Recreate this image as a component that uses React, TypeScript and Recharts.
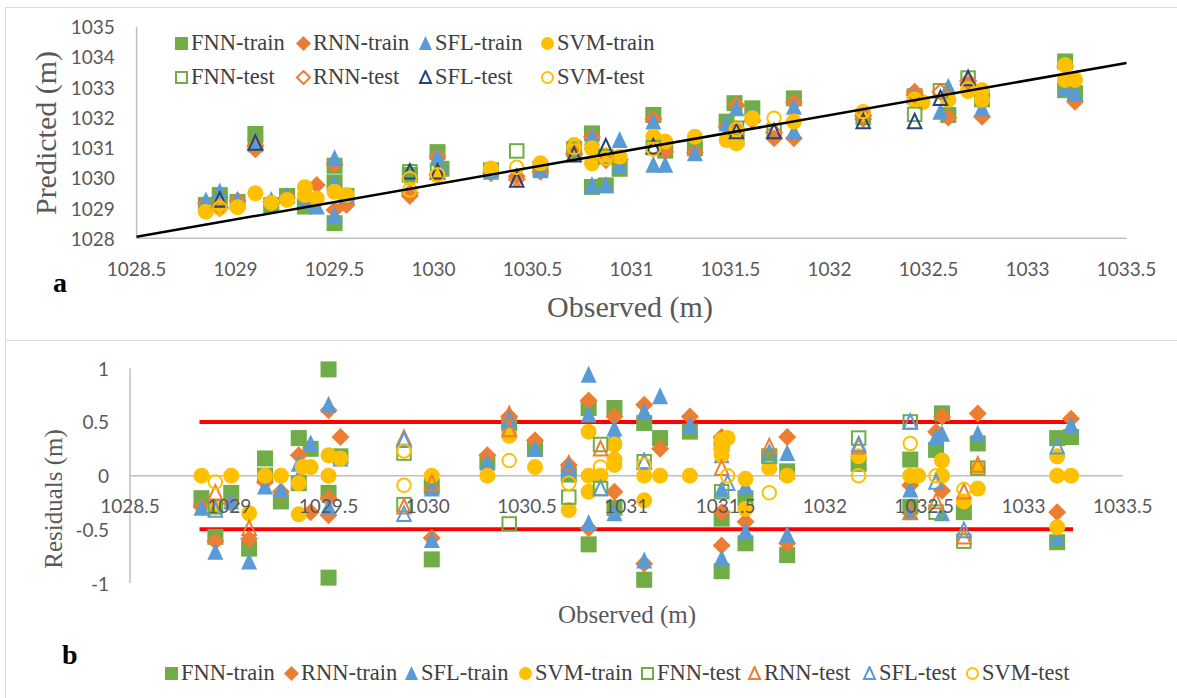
import React from 'react';
import { ScatterChart, Scatter, XAxis, YAxis, ReferenceLine } from 'recharts';

type Pt = [number, number];

// ---------- axis ticks ----------
const xTicks = [1028.5, 1029, 1029.5, 1030, 1030.5, 1031, 1031.5, 1032, 1032.5, 1033, 1033.5];
const yTicksA = [1028, 1029, 1030, 1031, 1032, 1033, 1034, 1035];
const yTicksB = [-1, -0.5, 0, 0.5, 1];

// ---------- panel a : observed vs predicted ----------
const fnnTrainA: Pt[] = [
  [1028.85, 1029.1], [1028.92, 1029.43], [1029.01, 1029.2], [1029.1, 1031.45], [1029.18, 1029.1],
  [1029.26, 1029.4], [1029.35, 1029.05], [1029.5, 1030.4], [1029.5, 1029.85], [1029.5, 1028.5],
  [1029.56, 1029.4], [1029.88, 1030.1], [1030.02, 1030.85], [1030.04, 1030.3], [1030.29, 1030.25],
  [1030.54, 1030.3], [1030.71, 1030.95], [1030.8, 1031.47], [1030.8, 1029.7], [1030.87, 1029.75],
  [1030.94, 1030.3], [1031.11, 1032.08], [1031.17, 1030.9], [1031.32, 1030.98], [1031.48, 1031.86],
  [1031.52, 1032.47], [1031.53, 1031.3], [1031.61, 1032.3], [1031.82, 1032.63], [1032.43, 1032.7],
  [1032.6, 1032.08], [1032.77, 1032.6], [1033.19, 1033.85], [1033.19, 1032.9], [1033.24, 1032.8],
];
const rnnTrainA: Pt[] = [
  [1028.85, 1029.15], [1028.92, 1029.35], [1029.01, 1029.25], [1029.1, 1030.95], [1029.18, 1029.2],
  [1029.26, 1029.35], [1029.41, 1029.76], [1029.5, 1030.45], [1029.5, 1028.94], [1029.56, 1029.1],
  [1029.88, 1029.4], [1030.02, 1030.7], [1030.29, 1030.15], [1030.42, 1030.05], [1030.54, 1030.2],
  [1030.71, 1030.8], [1030.8, 1031.35], [1030.94, 1030.6], [1031.11, 1031.95], [1031.17, 1030.86],
  [1031.32, 1030.85], [1031.48, 1031.7], [1031.53, 1032.4], [1031.61, 1031.9], [1031.72, 1031.31],
  [1031.82, 1031.31], [1031.82, 1032.5], [1032.17, 1031.95], [1032.43, 1032.85], [1032.6, 1032.0],
  [1032.7, 1033.1], [1032.77, 1032.02], [1033.19, 1033.7], [1033.24, 1032.52],
];
const sflTrainA: Pt[] = [
  [1028.85, 1029.25], [1028.92, 1029.55], [1029.01, 1029.27], [1029.1, 1031.2], [1029.18, 1029.27],
  [1029.26, 1029.4], [1029.35, 1029.2], [1029.41, 1029.05], [1029.5, 1030.65], [1029.5, 1029.82],
  [1029.5, 1028.77], [1029.56, 1029.4], [1030.02, 1030.7], [1030.04, 1030.4], [1030.29, 1030.2],
  [1030.54, 1030.25], [1030.71, 1030.85], [1030.8, 1031.35], [1030.8, 1029.76], [1030.87, 1029.76],
  [1030.94, 1031.25], [1030.94, 1030.4], [1031.11, 1031.86], [1031.11, 1030.43], [1031.17, 1030.43],
  [1031.32, 1030.81], [1031.48, 1031.8], [1031.53, 1032.3], [1031.61, 1032.08], [1031.82, 1032.35],
  [1031.82, 1031.53], [1032.43, 1032.7], [1032.56, 1032.19], [1032.6, 1033.01], [1032.77, 1032.3],
  [1033.19, 1032.96], [1033.24, 1032.8],
];
const svmTrainA: Pt[] = [
  [1028.85, 1028.88], [1028.92, 1029.05], [1029.01, 1029.03], [1029.1, 1029.49], [1029.18, 1029.18],
  [1029.26, 1029.27], [1029.35, 1029.69], [1029.35, 1029.43], [1029.41, 1029.32], [1029.5, 1029.54],
  [1029.56, 1029.43], [1030.02, 1030.09], [1030.29, 1030.31], [1030.54, 1030.48], [1030.71, 1031.09],
  [1030.8, 1030.98], [1030.8, 1030.48], [1030.87, 1030.75], [1030.94, 1030.7], [1031.11, 1031.36],
  [1031.17, 1031.2], [1031.32, 1031.36], [1031.48, 1031.25], [1031.53, 1031.14], [1031.53, 1031.47],
  [1031.61, 1031.97], [1031.82, 1031.86], [1032.17, 1032.1], [1032.43, 1032.58], [1032.47, 1032.5],
  [1032.6, 1032.58], [1032.7, 1032.87], [1032.77, 1032.9], [1032.77, 1032.58], [1033.19, 1033.73],
  [1033.19, 1033.24], [1033.24, 1033.24],
];
const fnnTestA: Pt[] = [
  [1028.92, 1029.3], [1029.1, 1031.1], [1029.88, 1030.2], [1030.02, 1030.2], [1030.42, 1030.89],
  [1030.71, 1030.95], [1030.87, 1030.7], [1031.11, 1031.0], [1031.53, 1031.64], [1031.72, 1031.55],
  [1032.17, 1032.0], [1032.43, 1032.1], [1032.56, 1032.88], [1032.7, 1033.3],
];
const rnnTestA: Pt[] = [
  [1028.92, 1029.0], [1029.1, 1031.05], [1029.88, 1029.5], [1030.02, 1030.1], [1030.42, 1029.95],
  [1030.71, 1030.8], [1030.87, 1030.59], [1031.11, 1031.0], [1031.53, 1031.6], [1031.72, 1031.5],
  [1032.17, 1032.05], [1032.43, 1032.75], [1032.56, 1032.85], [1032.7, 1033.2],
];
const sflTestA: Pt[] = [
  [1028.92, 1029.27], [1029.1, 1031.15], [1029.88, 1030.2], [1030.02, 1030.2], [1030.42, 1029.93],
  [1030.71, 1030.76], [1030.87, 1031.03], [1031.11, 1031.03], [1031.53, 1031.53], [1031.72, 1031.53],
  [1032.17, 1031.86], [1032.43, 1031.86], [1032.56, 1032.63], [1032.7, 1033.29],
];
const svmTestA: Pt[] = [
  [1028.92, 1029.0], [1029.88, 1029.98], [1029.88, 1029.6], [1030.02, 1030.1], [1030.42, 1030.35],
  [1030.71, 1031.0], [1030.87, 1030.65], [1031.11, 1030.95], [1031.53, 1031.6], [1031.72, 1031.97],
  [1032.17, 1032.19], [1032.43, 1032.6], [1032.7, 1032.95],
];
const trendA: Pt[] = [[1028.5, 1028.05], [1033.5, 1033.8]];

// ---------- panel b : observed vs residuals ----------
const fnnTrainB: Pt[] = [
  [1028.86, -0.21], [1028.93, -0.57], [1029.01, -0.16], [1029.1, -0.68], [1029.18, 0.16], [1029.18, 0],
  [1029.26, -0.24], [1029.35, 0.35], [1029.35, -0.07], [1029.41, 0.25], [1029.5, 0.99], [1029.5, -0.16],
  [1029.5, -0.95], [1029.56, 0.18], [1030.02, -0.1], [1030.02, -0.78], [1030.3, 0.13], [1030.41, 0.49],
  [1030.54, 0.25], [1030.71, 0.01], [1030.81, 0.63], [1030.81, -0.64], [1030.94, 0.63], [1030.94, -0.3],
  [1031.09, 0.49], [1031.09, -0.97], [1031.17, 0.35], [1031.32, 0.41], [1031.48, 0.3], [1031.48, -0.4],
  [1031.48, -0.89], [1031.6, -0.21], [1031.6, -0.63], [1031.72, 0.18], [1031.81, 0.04], [1031.81, -0.74],
  [1032.17, 0.11], [1032.43, 0.15], [1032.43, -0.29], [1032.56, 0.24], [1032.59, 0.58], [1032.7, -0.34],
  [1032.77, 0.3], [1033.17, 0.35], [1033.17, -0.62], [1033.24, 0.36],
];
const rnnTrainB: Pt[] = [
  [1028.86, -0.29], [1028.93, -0.61], [1029.01, -0.26], [1029.1, -0.59], [1029.18, -0.06], [1029.26, -0.15],
  [1029.35, 0.19], [1029.41, -0.34], [1029.5, 0.61], [1029.5, -0.21], [1029.5, -0.37], [1029.56, 0.36],
  [1030.02, -0.58], [1030.3, 0.19], [1030.41, 0.55], [1030.54, 0.33], [1030.71, 0.1], [1030.81, 0.7],
  [1030.81, -0.49], [1030.94, 0.55], [1030.94, -0.15], [1031.09, 0.66], [1031.09, -0.82], [1031.17, 0.25],
  [1031.32, 0.55], [1031.48, 0.36], [1031.48, -0.34], [1031.48, -0.65], [1031.6, -0.43], [1031.81, 0.36],
  [1031.81, -0.63], [1032.43, -0.09], [1032.56, 0.41], [1032.59, 0.55], [1032.59, -0.14], [1032.77, 0.58],
  [1033.17, -0.34], [1033.24, 0.53],
];
const sflTrainB: Pt[] = [
  [1028.86, -0.3], [1028.93, -0.71], [1029.01, -0.24], [1029.1, -0.8], [1029.18, -0.1], [1029.26, -0.13],
  [1029.35, 0.11], [1029.35, -0.01], [1029.41, 0.3], [1029.5, 0.66], [1029.5, -0.29], [1029.56, 0.16],
  [1030.02, -0.12], [1030.02, -0.6], [1030.3, 0.12], [1030.41, 0.47], [1030.54, 0.25], [1030.71, 0.05],
  [1030.81, 0.94], [1030.81, 0.57], [1030.81, -0.44], [1030.94, 0.44], [1030.94, 0.38], [1030.94, -0.35],
  [1031.09, 0.6], [1031.09, -0.79], [1031.17, 0.74], [1031.32, 0.47], [1031.48, 0.19], [1031.48, -0.13],
  [1031.48, -0.77], [1031.6, -0.1], [1031.6, -0.52], [1031.81, 0.21], [1031.81, -0.55], [1032.43, -0.13],
  [1032.43, -0.34], [1032.56, 0.36], [1032.59, 0.39], [1032.59, -0.35], [1032.77, 0.39], [1033.17, -0.58],
  [1033.24, 0.47],
];
const svmTrainB: Pt[] = [
  [1028.86, 0], [1028.93, -0.29], [1029.01, 0], [1029.1, -0.35], [1029.18, 0], [1029.26, 0],
  [1029.35, -0.07], [1029.35, -0.36], [1029.37, 0.08], [1029.41, 0.08], [1029.5, 0.19], [1029.5, 0],
  [1029.56, 0.16], [1030.02, 0], [1030.3, 0], [1030.41, 0.37], [1030.54, 0.08], [1030.71, -0.32],
  [1030.81, 0.41], [1030.81, 0], [1030.81, -0.15], [1030.87, 0], [1030.94, 0.29], [1030.94, 0.15],
  [1030.94, 0.1], [1031.09, 0], [1031.09, -0.23], [1031.17, 0], [1031.32, 0], [1031.48, 0.33],
  [1031.48, 0.25], [1031.48, 0.19], [1031.51, 0.35], [1031.6, -0.03], [1031.6, -0.31], [1031.72, 0.07],
  [1031.81, 0], [1032.17, 0.18], [1032.43, 0], [1032.47, 0], [1032.59, 0.14], [1032.59, 0],
  [1032.7, -0.24], [1032.77, 0.07], [1032.77, -0.12], [1033.17, 0.18], [1033.17, 0], [1033.17, -0.48],
  [1033.24, 0],
];
const fnnTestB: Pt[] = [
  [1028.93, -0.29], [1029.88, 0.21], [1029.88, -0.27], [1030.41, -0.45], [1030.71, -0.2], [1030.87, 0.29],
  [1030.87, -0.12], [1031.09, 0.13], [1031.48, -0.15], [1031.72, 0.18], [1032.17, 0.35], [1032.43, 0.5],
  [1032.56, -0.34], [1032.7, -0.61], [1032.77, 0.07],
];
const rnnTestB: Pt[] = [
  [1028.93, -0.16], [1029.1, -0.49], [1029.88, 0.35], [1029.88, -0.29], [1030.02, -0.07], [1030.41, 0.57],
  [1030.41, 0.43], [1030.71, 0.11], [1030.87, 0.25], [1031.09, 0.13], [1031.48, 0.07], [1031.72, 0.27],
  [1032.17, 0.27], [1032.43, -0.34], [1032.56, -0.24], [1032.7, -0.15], [1032.7, -0.57], [1032.77, 0.1],
];
const sflTestB: Pt[] = [
  [1028.93, -0.32], [1029.88, 0.33], [1029.88, -0.36], [1030.41, 0.52], [1030.71, 0.08], [1030.87, -0.12],
  [1031.09, 0.13], [1031.51, -0.07], [1031.72, 0.21], [1032.17, 0.29], [1032.43, 0.5], [1032.56, -0.06],
  [1032.7, -0.51], [1033.17, 0.27],
];
const svmTestB: Pt[] = [
  [1028.93, -0.06], [1029.88, 0.23], [1029.88, -0.09], [1030.41, 0.14], [1030.71, -0.07], [1030.87, 0.08],
  [1031.09, 0.1], [1031.51, 0], [1031.72, -0.16], [1032.17, 0], [1032.43, 0.3], [1032.56, 0],
  [1032.7, -0.13],
];
const limitUpper: Pt[] = [[1028.85, 0.5], [1033.25, 0.5]];
const limitLower: Pt[] = [[1028.85, -0.5], [1033.25, -0.5]];

// ---------- styling ----------
const GREEN = '#70AD47';
const ORANGE = '#ED7D31';
const BLUE = '#5B9BD5';
const YELLOW = '#FFC000';
const NAVY = '#264478';
const GRAY_TXT = '#595959';
const AXIS = '#bfbfbf';
const SERIF = "'Liberation Serif', 'Times New Roman', serif";
const SANS = "Lato, 'Liberation Sans', sans-serif";

type Kind = 'square' | 'diamond' | 'triangle' | 'circle';

const Marker = ({ kind, color, open, cx, cy, s }: { kind: Kind; color: string; open: boolean; cx: number; cy: number; s: number }) => {
  const h = s / 2;
  const st = open ? { fill: 'none', stroke: color, strokeWidth: 2 } : { fill: color, stroke: 'none' };
  if (kind === 'square') return <rect x={cx - h} y={cy - h} width={s} height={s} {...st} />;
  if (kind === 'diamond')
    return <polygon points={`${cx},${cy - h - 1} ${cx + h + 1},${cy} ${cx},${cy + h + 1} ${cx - h - 1},${cy}`} {...st} />;
  if (kind === 'triangle')
    return <polygon points={`${cx},${cy - h - 1} ${cx + h},${cy + h} ${cx - h},${cy + h}`} {...st} />;
  return <circle cx={cx} cy={cy} r={h} {...st} />;
};

const shape = (kind: Kind, color: string, open: boolean) => (p: any) =>
  <Marker kind={kind} color={color} open={open} cx={p.cx} cy={p.cy} s={open ? 13.5 : 16} />;

const toXY = (arr: Pt[]) => arr.map(([x, y]) => ({ x, y }));
const noShape = () => <g />;

type Series = { name: string; data: Pt[]; kind: Kind; color: string; open: boolean };

const seriesA: Series[] = [
  { name: 'FNN-train', data: fnnTrainA, kind: 'square', color: GREEN, open: false },
  { name: 'RNN-train', data: rnnTrainA, kind: 'diamond', color: ORANGE, open: false },
  { name: 'SFL-train', data: sflTrainA, kind: 'triangle', color: BLUE, open: false },
  { name: 'SVM-train', data: svmTrainA, kind: 'circle', color: YELLOW, open: false },
  { name: 'FNN-test', data: fnnTestA, kind: 'square', color: GREEN, open: true },
  { name: 'RNN-test', data: rnnTestA, kind: 'diamond', color: ORANGE, open: true },
  { name: 'SFL-test', data: sflTestA, kind: 'triangle', color: NAVY, open: true },
  { name: 'SVM-test', data: svmTestA, kind: 'circle', color: YELLOW, open: true },
];
const seriesB: Series[] = [
  { name: 'FNN-train', data: fnnTrainB, kind: 'square', color: GREEN, open: false },
  { name: 'RNN-train', data: rnnTrainB, kind: 'diamond', color: ORANGE, open: false },
  { name: 'SFL-train', data: sflTrainB, kind: 'triangle', color: BLUE, open: false },
  { name: 'SVM-train', data: svmTrainB, kind: 'circle', color: YELLOW, open: false },
  { name: 'FNN-test', data: fnnTestB, kind: 'square', color: GREEN, open: true },
  { name: 'RNN-test', data: rnnTestB, kind: 'triangle', color: ORANGE, open: true },
  { name: 'SFL-test', data: sflTestB, kind: 'triangle', color: BLUE, open: true },
  { name: 'SVM-test', data: svmTestB, kind: 'circle', color: YELLOW, open: true },
];

const XTick = (yPos: number) => (p: any) => (
  <text x={p.x} y={yPos} textAnchor="middle" dominantBaseline="central" fill={GRAY_TXT} fontFamily={SANS} fontSize={19}>
    {String(p.payload.value)}
  </text>
);
const YTick = (xPos: number) => (p: any) => (
  <text x={xPos} y={p.y} textAnchor="end" dominantBaseline="central" fill={GRAY_TXT} fontFamily={SANS} fontSize={19}>
    {String(p.payload.value)}
  </text>
);

const LegendItem = ({ s, left, top }: { s: Series; left: number; top: number }) => (
  <div style={{ position: 'absolute', left, top: top - 15, height: 30, display: 'flex', alignItems: 'center', whiteSpace: 'nowrap' }}>
    <svg width={15} height={15} style={{ marginRight: 2 }}>
      <Marker kind={s.kind} color={s.color} open={s.open} cx={7.5} cy={7.5} s={s.open ? 11 : 13} />
    </svg>
    <span style={{ fontFamily: SERIF, fontSize: 22.5, color: '#404040' }}>{s.name}</span>
  </div>
);

const legendAX = [174, 296, 418, 540];
const legendBX = [164, 284, 404, 518, 640, 747, 862, 965];

export default function App() {
  const ha = 340;
  const hb = 358;
  // panel a plot area (chart coords): top 26.7, bottom 238.3
  const aTop = 26.7, aBottom = 238.3;
  // panel b plot area (chart coords): top 28.3, bottom 243
  const bTop = 28.3, bBottom = 243;
  const bZero = (bTop + bBottom) / 2;
  return (
    <div style={{ position: 'absolute', left: 0, top: 0, width: 1177, height: 698, background: '#fff', overflow: 'hidden' }}>
      {/* panel frames */}
      <div style={{ position: 'absolute', left: 5, top: 7, width: 1190, height: 332, border: '1px solid #d9d9d9' }} />
      <div style={{ position: 'absolute', left: 5, top: 340, width: 1190, height: 400, border: '1px solid #d9d9d9' }} />

      {/* panel a */}
      <div style={{ position: 'absolute', left: 0, top: 0 }}>
        <ScatterChart width={1177} height={ha} margin={{ top: aTop, right: 50.5, left: 76.6, bottom: ha - aBottom - 30 }}>
          <XAxis type="number" dataKey="x" domain={[1028.5, 1033.5]} ticks={xTicks} height={30}
            axisLine={{ stroke: AXIS, strokeWidth: 1.5 }} tickLine={false} tick={XTick(aBottom + 30)} />
          <YAxis type="number" dataKey="y" domain={[1028, 1035]} ticks={yTicksA} width={60}
            axisLine={{ stroke: AXIS, strokeWidth: 1.5 }} tickLine={false} tick={YTick(114.8)} />
          {seriesA.map((s) => (
            <Scatter key={s.name} name={s.name} data={toXY(s.data)} shape={shape(s.kind, s.color, s.open)} isAnimationActive={false} />
          ))}
          <Scatter name="trend" data={toXY(trendA)} line={{ stroke: '#000', strokeWidth: 2.5 }} shape={noShape} legendType="none" isAnimationActive={false} />
        </ScatterChart>
      </div>

      {/* panel b */}
      <div style={{ position: 'absolute', left: 0, top: 340 }}>
        <ScatterChart width={1177} height={hb} margin={{ top: bTop, right: 54.3, left: 70, bottom: hb - bBottom - 30 }}>
          <XAxis type="number" dataKey="x" domain={[1028.5, 1033.5]} ticks={xTicks} height={30}
            axisLine={false} tickLine={false} tick={XTick(bZero + 30)} />
          <YAxis type="number" dataKey="y" domain={[-1, 1]} ticks={yTicksB} width={60}
            axisLine={{ stroke: AXIS, strokeWidth: 1.5 }} tickLine={false} tick={YTick(109)} />
          <ReferenceLine y={0} stroke={AXIS} strokeWidth={1.5} />
          <Scatter name="upper" data={toXY(limitUpper)} line={{ stroke: '#FF0000', strokeWidth: 4 }} shape={noShape} legendType="none" isAnimationActive={false} />
          <Scatter name="lower" data={toXY(limitLower)} line={{ stroke: '#FF0000', strokeWidth: 4 }} shape={noShape} legendType="none" isAnimationActive={false} />
          {seriesB.map((s) => (
            <Scatter key={s.name} name={s.name} data={toXY(s.data)} shape={shape(s.kind, s.color, s.open)} isAnimationActive={false} />
          ))}
        </ScatterChart>
      </div>

      {/* legends */}
      {seriesA.map((s, i) => (
        <LegendItem key={'la' + i} s={s} left={legendAX[i % 4]} top={i < 4 ? 43.3 : 77.3} />
      ))}
      {seriesB.map((s, i) => (
        <LegendItem key={'lb' + i} s={s} left={legendBX[i]} top={673} />
      ))}

      {/* titles */}
      <div style={{ position: 'absolute', left: 46, top: 132.5, transform: 'translate(-50%, -50%) rotate(-90deg)', fontFamily: SERIF, fontSize: 30, color: GRAY_TXT, whiteSpace: 'nowrap' }}>Predicted (m)</div>
      <div style={{ position: 'absolute', left: 630, top: 306.7, transform: 'translate(-50%, -50%)', fontFamily: SERIF, fontSize: 30, color: GRAY_TXT, whiteSpace: 'nowrap' }}>Observed (m)</div>
      <div style={{ position: 'absolute', left: 53.6, top: 499, transform: 'translate(-50%, -50%) rotate(-90deg)', fontFamily: SERIF, fontSize: 25, color: GRAY_TXT, whiteSpace: 'nowrap' }}>Residuals (m)</div>
      <div style={{ position: 'absolute', left: 627, top: 615, transform: 'translate(-50%, -50%)', fontFamily: SERIF, fontSize: 25, color: GRAY_TXT, whiteSpace: 'nowrap' }}>Observed (m)</div>
      <div style={{ position: 'absolute', left: 53, top: 268, fontFamily: SERIF, fontWeight: 'bold', fontSize: 28, color: '#000', lineHeight: '30px' }}>a</div>
      <div style={{ position: 'absolute', left: 62, top: 640, fontFamily: SERIF, fontWeight: 'bold', fontSize: 28, color: '#000', lineHeight: '30px' }}>b</div>
    </div>
  );
}
